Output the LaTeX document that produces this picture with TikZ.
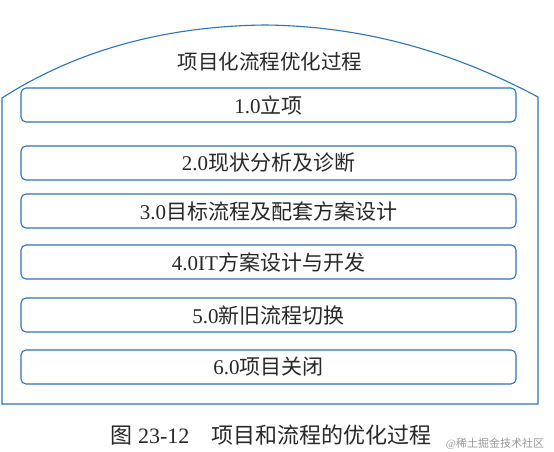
\documentclass[tikz,border=0pt]{standalone}
\usepackage{fontspec}
\setmainfont{Liberation Serif}
\newfontfamily\cjk{Noto Sans CJK SC}
\definecolor{lineblue}{RGB}{45,115,185}
\definecolor{txt}{RGB}{40,40,40}
\begin{document}
\begin{tikzpicture}[x=1pt,y=-1pt,
  stepbox/.style={draw=lineblue,line width=1.1pt,rounded corners=5pt,minimum width=495pt,minimum height=34pt,inner sep=0pt,text=txt,font=\fontsize{21}{21}\selectfont},
  outer/.style={draw=lineblue,line width=1.1pt}]
\useasboundingbox (0,0) rectangle (554,452);
\fill[white] (0,0) rectangle (554,452);
\coordinate (tl) at (2,98);
\coordinate (tr) at (538,97);
\coordinate (bl) at (2,404);
\coordinate (br) at (538,404);
\draw[outer] (tl) .. controls (80,48) and (170,26) .. (265,25) .. controls (360,26) and (450,50) .. (tr) -- (br) -- (bl) -- cycle;
\node[text=txt,font=\fontsize{20.5}{20.5}\selectfont] (title) at (270,62) {\cjk 项目化流程优化过程};
\node[stepbox] (s1) at (268.5,105) {1.0{\cjk 立项}};
\node[stepbox] (s2) at (268.5,163) {2.0{\cjk 现状分析及诊断}};
\node[stepbox] (s3) at (268.5,211) {3.0{\cjk 目标流程及配套方案设计}};
\node[stepbox] (s4) at (268.5,262) {4.0IT{\cjk 方案设计与开发}};
\node[stepbox] (s5) at (268.5,315) {5.0{\cjk 新旧流程切换}};
\node[stepbox] (s6) at (268.5,367) {6.0{\cjk 项目关闭}};
\node[text=txt,font=\fontsize{22}{22}\selectfont] (cap) at (271,435) {{\cjk 图} 23-12\hspace{1em}{\cjk 项目和流程的优化过程}};
\node[text=black!40,font=\fontsize{11}{11}\selectfont] (wm) at (495,444) {@{\cjk 稀土掘金技术社区}};
\end{tikzpicture}
\end{document}
